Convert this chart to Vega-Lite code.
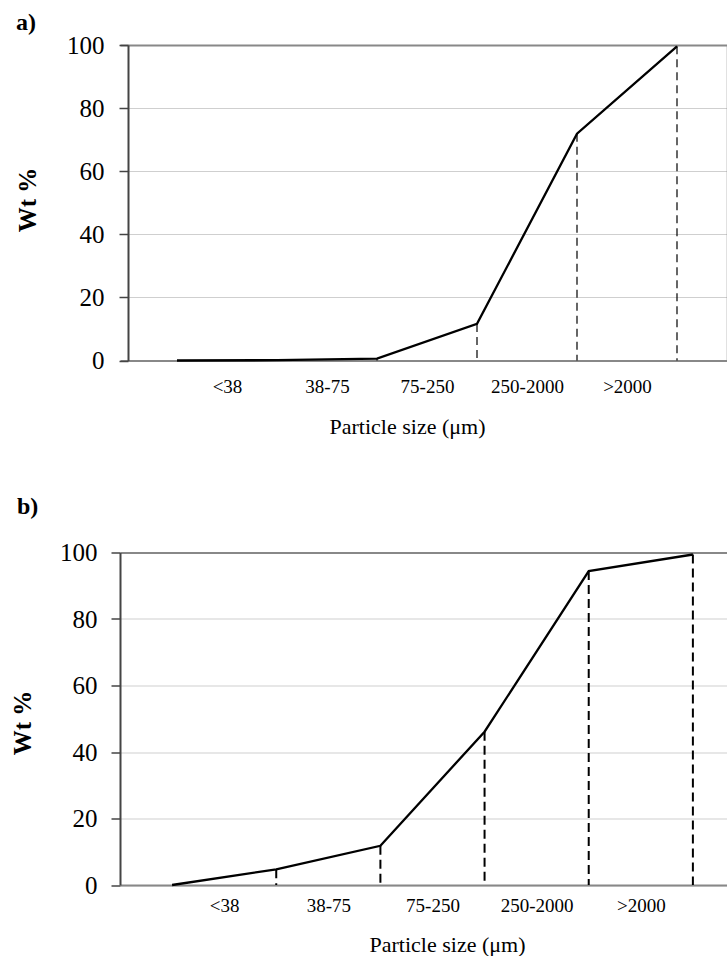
{
  "$schema": "https://vega.github.io/schema/vega-lite/v6.json",
  "background": "white",
  "padding": {"left": 10, "top": 10, "right": 0, "bottom": 0},
  "columns": 1,
  "spacing": 56.5,
  "config": {
    "font": "Liberation Serif",
    "title": {"font": "Liberation Serif", "fontSize": 24, "fontWeight": "bold", "anchor": "start", "frame": "group", "color": "black"},
    "axis": {"labelFont": "Liberation Serif", "titleFont": "Liberation Serif", "labelColor": "black", "titleColor": "black"}
  },
  "datasets": {
    "a": [
      {"pos": 1, "wt": 0},
      {"pos": 3, "wt": 0.1},
      {"pos": 5, "wt": 0.6},
      {"pos": 7, "wt": 11.6},
      {"pos": 9, "wt": 71.9},
      {"pos": 11, "wt": 99.6}
    ],
    "b": [
      {"pos": 1, "wt": 0},
      {"pos": 3, "wt": 4.7},
      {"pos": 5, "wt": 11.8},
      {"pos": 7, "wt": 46.1},
      {"pos": 9, "wt": 94.4},
      {"pos": 11, "wt": 99.4}
    ]
  },
  "concat": [
    {
      "width": 607,
      "height": 315.5,
      "title": {"text": "a)", "dx": -104, "offset": -1.5},
      "view": {"stroke": null},
      "data": {"name": "a"},
      "encoding": {
        "x": {
          "field": "pos", "type": "quantitative",
          "scale": {"domain": [-0.14, 12], "nice": false, "zero": false},
          "axis": {
            "values": [2, 4, 6, 8, 10],
            "labelExpr": "['<38','38-75','75-250','250-2000','>2000'][datum.value/2-1]",
            "ticks": false, "tickSize": 0, "grid": false,
            "domainColor": "#888", "domainWidth": 2,
            "labelFontSize": 19, "labelPadding": 17, "labelFlush": false, "labelBaseline": "top",
            "title": "Particle size (μm)", "titleFontSize": 22, "titleFontWeight": "normal",
            "titleX": 287, "titleY": 66, "titleBaseline": "middle", "titleAlign": "center"
          }
        }
      },
      "layer": [
        {
          "mark": {"type": "rule", "strokeDash": [8, 5], "strokeWidth": 1.2, "color": "black"},
          "encoding": {
            "y": {
              "field": "wt", "type": "quantitative",
              "scale": {"domain": [0, 100], "nice": false},
              "axis": {
                "offset": -8,
                "values": [0, 20, 40, 60, 80, 100],
                "tickColor": "#444", "tickSize": 9, "tickWidth": 1.5,
                "domainColor": "#444", "domainWidth": 2,
                "labelFontSize": 25, "labelPadding": 15, "labelFlush": false,
                "gridColor": {"condition": {"test": "datum.value === 100", "value": "#888"}, "value": "#cfcfcf"},
                "gridWidth": {"condition": {"test": "datum.value === 100", "value": 1.8}, "value": 1},
                "title": "Wt %", "titleFontSize": 25, "titleFontWeight": "bold",
                "titleX": -100.5, "titleY": 154.5, "titleBaseline": "middle", "titleAngle": 270, "titleAlign": "center"
              }
            },
            "y2": {"datum": 0}
          }
        },
        {
          "mark": {"type": "line", "color": "black", "strokeWidth": 2.3},
          "encoding": {
            "y": {"field": "wt", "type": "quantitative", "axis": null}
          }
        },
        {
          "mark": {"type": "line", "opacity": 0},
          "encoding": {
            "y": {
              "field": "wt", "type": "quantitative",
              "axis": {"orient": "right", "labels": false, "ticks": false, "grid": false, "title": null, "domainColor": "#888", "domainWidth": 1.5}
            }
          }
        }
      ],
      "resolve": {"axis": {"y": "independent"}}
    },
    {
      "width": 607,
      "height": 332.5,
      "title": {"text": "b)", "dx": -103, "offset": 22},
      "view": {"stroke": null},
      "data": {"name": "b"},
      "encoding": {
        "x": {
          "field": "pos", "type": "quantitative",
          "scale": {"domain": [0, 11.655], "nice": false, "zero": false},
          "axis": {
            "values": [2, 4, 6, 8, 10],
            "labelExpr": "['<38','38-75','75-250','250-2000','>2000'][datum.value/2-1]",
            "ticks": false, "tickSize": 0, "grid": false,
            "domainColor": "#888", "domainWidth": 2,
            "labelFontSize": 19, "labelPadding": 11, "labelFlush": false, "labelBaseline": "top",
            "title": "Particle size (μm)", "titleFontSize": 22, "titleFontWeight": "normal",
            "titleX": 327, "titleY": 59.5, "titleBaseline": "middle", "titleAlign": "center"
          }
        },
        "y": {
          "field": "wt", "type": "quantitative",
          "scale": {"domain": [0, 100], "nice": false},
          "axis": {
            "values": [0, 20, 40, 60, 80, 100],
            "tickColor": "#444", "tickSize": 9, "tickWidth": 1.5,
            "domainColor": "#444", "domainWidth": 2,
            "labelFontSize": 25, "labelPadding": 14, "labelFlush": false,
            "gridColor": {"condition": {"test": "datum.value === 100", "value": "#888"}, "value": "#cfcfcf"},
            "gridWidth": {"condition": {"test": "datum.value === 100", "value": 2}, "value": 1},
            "title": "Wt %", "titleFontSize": 25, "titleFontWeight": "bold",
            "titleX": -97.5, "titleY": 170, "titleBaseline": "middle", "titleAngle": 270, "titleAlign": "center"
          }
        }
      },
      "layer": [
        {
          "mark": {"type": "rule", "strokeDash": [9, 5], "strokeWidth": 2, "color": "black"},
          "encoding": {"y2": {"datum": 0}}
        },
        {
          "mark": {"type": "line", "color": "black", "strokeWidth": 2.3}
        }
      ]
    }
  ]
}
